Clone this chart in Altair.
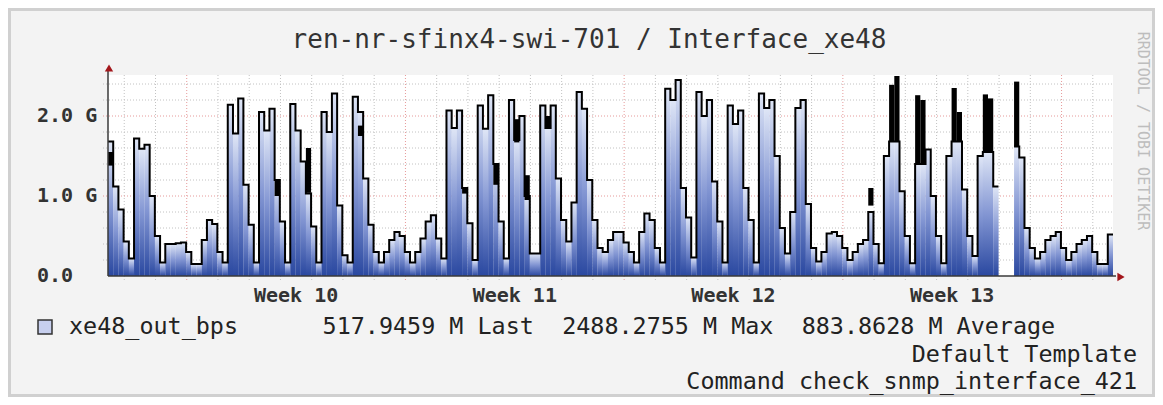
import altair as alt
import pandas as pd

# ---------------- data ----------------
TITLE = "ren-nr-sfinx4-swi-701 / Interface_xe48"
SERIES_NAME = "xe48_out_bps"
START_DAY = -2.52            # first sample, days from the start of Week 10
STEP_DAYS = 1.0 / 6.0        # 4-hour consolidated samples

# traffic in Gbit/s, one value per 4-hour step (None = no data)
out_gbps = [
    1.68, 1.12, 0.83, 0.43, 0.22, 1.72, 1.59, 1.64, 1.00, 0.50,
    0.17, 0.40, 0.40, 0.41, 0.42, 0.30, 0.15, 0.15, 0.45, 0.70,
    0.65, 0.30, 0.17, 2.14, 1.78, 2.22, 1.14, 0.64, 0.17, 2.05,
    1.82, 2.09, 1.20, 0.68, 0.17, 2.15, 1.82, 1.43, 1.03, 0.62,
    0.17, 2.05, 1.80, 2.28, 0.88, 0.26, 0.17, 2.24, 2.05, 1.22,
    0.64, 0.30, 0.17, 0.30, 0.45, 0.55, 0.50, 0.30, 0.17, 0.30,
    0.47, 0.68, 0.76, 0.47, 0.22, 2.07, 1.85, 2.07, 1.10, 0.66,
    0.20, 2.13, 1.84, 2.26, 1.40, 0.68, 0.22, 2.20, 1.70, 2.00,
    1.00, 0.28, 0.28, 2.13, 1.85, 2.13, 1.22, 0.70, 0.43, 0.92,
    2.30, 2.09, 1.20, 0.70, 0.35, 0.30, 0.45, 0.55, 0.55, 0.42,
    0.30, 0.17, 0.55, 0.78, 0.70, 0.35, 0.17, 2.34, 2.20, 2.45,
    1.10, 0.73, 0.23, 2.30, 2.00, 2.20, 1.18, 0.68, 0.17, 2.13,
    1.90, 2.07, 1.10, 0.70, 0.17, 2.28, 2.10, 2.20, 1.50, 0.60,
    0.28, 0.80, 2.10, 2.20, 0.90, 0.35, 0.18, 0.30, 0.53, 0.55,
    0.50, 0.35, 0.20, 0.30, 0.40, 0.45, 0.80, 0.40, 0.16, 1.50,
    1.68, 1.68, 1.06, 0.50, 0.16, 1.40, 1.40, 1.58, 1.00, 0.50,
    0.16, 1.50, 1.68, 1.68, 1.08, 0.50, 0.25, 1.50, 1.55, 1.55,
    1.12, None, None, None, 1.62, 1.48, 0.60, 0.35, 0.22, 0.30,
    0.45, 0.50, 0.55, 0.35, 0.20, 0.30, 0.40, 0.45, 0.50, 0.30,
    0.15, 0.15, 0.52,
]

# dark bands (short-term spread inside a step)
band_step = [0, 32, 38, 48, 68, 74, 78, 80, 84, 146, 150, 151, 155, 156, 162, 163, 168, 169, 174]
band_lo = [1.38, 1.00, 1.04, 1.75, 1.03, 1.14, 1.67, 0.95, 1.84, 0.88, 1.68, 1.68, 1.40, 1.40, 1.68, 1.68, 1.55, 1.55, 1.62]
band_hi = [1.55, 1.20, 1.60, 1.88, 1.10, 1.40, 1.96, 1.26, 2.00, 1.10, 2.39, 2.50, 2.26, 2.20, 2.35, 2.05, 2.27, 2.22, 2.43]

week_pos = [3.5, 10.5, 17.5, 24.5]
week_labels = ["Week 10", "Week 11", "Week 12", "Week 13"]
y_label_vals = [0, 1, 2]
y_label_text = ["0.0", "1.0 G", "2.0 G"]
y_minor = [0.2, 0.4, 0.6, 0.8, 1.2, 1.4, 1.6, 1.8, 2.2, 2.4]
y_major = [1.0, 2.0]
x_major = [0, 7, 14, 21, 28]
x_minor = [d for d in range(-2, 30) if d % 7 != 0]

legend_stats = ["517.9459 M Last", "2488.2755 M Max", "883.8628 M Average"]
legend_cols = [18, 35, 52]
comment_lines = ["Default Template", "Command check_snmp_interface_421"]
watermark = "RRDTOOL / TOBI OETIKER"

# ---------------- layout ----------------
W, H = 1005, 201
PAD = {"left": 100, "top": 67, "right": 42, "bottom": 121}
MONO = "DejaVu Sans Mono"
PITCH = 14.09                    # legend character pitch

X_END = START_DAY + len(out_gbps) * STEP_DAYS
x_scale = alt.Scale(domain=[START_DAY, X_END], nice=False, zero=False)
y_scale = alt.Scale(domain=[0, 2.5125], nice=False, zero=False)

# ---------------- tables ----------------
rect_rows, line_rows = [], []
seg, last, in_gap = 0, None, True
for i, v in enumerate(out_gbps):
    t0 = START_DAY + i * STEP_DAYS
    if v is None:
        if not in_gap:
            line_rows.append({"t": t0, "v": last, "seg": seg})
            seg += 1
        in_gap = True
        continue
    rect_rows.append({"t0": t0, "t1": t0 + STEP_DAYS * 1.03, "v": v, "base": 0.0})
    line_rows.append({"t": t0, "v": v, "seg": seg})
    last, in_gap = v, False
line_rows.append({"t": X_END, "v": last, "seg": seg})
rect_df = pd.DataFrame(rect_rows)
line_df = pd.DataFrame(line_rows)

band_df = pd.DataFrame({
    "t0": [START_DAY + s * STEP_DAYS for s in band_step],
    "t1": [START_DAY + (s + 1) * STEP_DAYS for s in band_step],
    "lo": band_lo, "hi": band_hi,
})

one = alt.Data(values=[{"k": 0}])

# ---------------- grid ----------------
def hgrid(vals, color):
    return alt.Chart(pd.DataFrame({"v": vals})).mark_rule(
        color=color, strokeDash=[1, 2], strokeWidth=1
    ).encode(y=alt.Y("v:Q", scale=y_scale, axis=None),
             x=alt.value(-5), x2=alt.value(W))

def vgrid(vals, color):
    return alt.Chart(pd.DataFrame({"d": vals})).mark_rule(
        color=color, strokeDash=[1, 2], strokeWidth=1
    ).encode(x=alt.X("d:Q", scale=x_scale, axis=None),
             y=alt.value(0), y2=alt.value(H + 5))

grid = [hgrid(y_minor, "#c2c2c2"), vgrid(x_minor, "#c2c2c2"),
        hgrid(y_major, "#e69a9a"), vgrid(x_major, "#e69a9a")]

# ---------------- data marks ----------------
fill = alt.Gradient(
    gradient="linear", x1=0, x2=0, y1=0, y2=1,
    stops=[alt.GradientStop(color="#dfe6f6", offset=0),
           alt.GradientStop(color="#8396d3", offset=0.5),
           alt.GradientStop(color="#2a48a0", offset=1)],
)

area = alt.Chart(rect_df).mark_rect(fill=fill, strokeWidth=0, clip=True).encode(
    x=alt.X("t0:Q", scale=x_scale, axis=None),
    x2="t1:Q",
    y=alt.Y("v:Q", scale=y_scale, axis=None),
    y2="base:Q",
)

bands = alt.Chart(band_df).mark_rect(color="black", clip=True).encode(
    x=alt.X("t0:Q", scale=x_scale, axis=None), x2="t1:Q",
    y=alt.Y("lo:Q", scale=y_scale, axis=None), y2="hi:Q",
)

line = alt.Chart(line_df).mark_line(
    interpolate="step-after", color="black", strokeWidth=2, clip=True
).encode(
    x=alt.X("t:Q", scale=x_scale, axis=None),
    y=alt.Y("v:Q", scale=y_scale, axis=None),
    detail="seg:N",
)

# ---------------- axes (drawn by hand, RRDtool style) ----------------
y_axis_line = alt.Chart(one).mark_rule(color="#3a3a3a", strokeWidth=1.5).encode(
    x=alt.value(0), y=alt.value(-4), y2=alt.value(H))
x_axis_line = alt.Chart(one).mark_rule(color="#3a3a3a", strokeWidth=1.5).encode(
    x=alt.value(0), x2=alt.value(W + 3), y=alt.value(H))

y_labels = alt.Chart(pd.DataFrame({"v": y_label_vals, "s": y_label_text})).mark_text(
    font=MONO, fontSize=20, fontWeight="bold", color="#333333",
    align="left", baseline="middle"
).encode(y=alt.Y("v:Q", scale=y_scale, axis=None), x=alt.value(-71), text="s:N")

week_text = alt.Chart(pd.DataFrame({"p": week_pos, "w": week_labels})).mark_text(
    font=MONO, fontSize=20, fontWeight="bold", color="#333333", baseline="middle"
).encode(x=alt.X("p:Q", scale=x_scale, axis=None), y=alt.value(H + 20), text="w:N")

arrow_up = alt.Chart(one).mark_point(shape="triangle-up", filled=True, size=70,
                                     color="#a3161b", opacity=1).encode(
    x=alt.value(1), y=alt.value(-7))
arrow_right = alt.Chart(one).mark_point(shape="triangle-right", filled=True, size=70,
                                        color="#a3161b", opacity=1).encode(
    x=alt.value(W + 8), y=alt.value(H + 1))

# ---------------- texts ----------------
title = alt.Chart(pd.DataFrame({"s": [TITLE]})).mark_text(
    font=MONO, fontSize=26, color="#333333", align="center", baseline="middle"
).encode(x=alt.value(481), y=alt.value(-35), text="s:N")

legend_box = alt.Chart(one).mark_rect(fill="#c7cfee", stroke="#333333", strokeWidth=1.5).encode(
    x=alt.value(-70), x2=alt.value(-56), y=alt.value(245), y2=alt.value(259))

legend_name = alt.Chart(pd.DataFrame({"s": [SERIES_NAME]})).mark_text(
    font=MONO, fontSize=23.4, color="#222222", align="left", baseline="middle"
).encode(x=alt.value(-39), y=alt.value(252), text="s:N")

stats = [
    alt.Chart(pd.DataFrame({"s": [s]})).mark_text(
        font=MONO, fontSize=23.4, color="#222222", align="left", baseline="middle"
    ).encode(x=alt.value(-39 + c * PITCH), y=alt.value(252), text="s:N")
    for s, c in zip(legend_stats, legend_cols)
]

comments = [
    alt.Chart(pd.DataFrame({"s": [s]})).mark_text(
        font=MONO, fontSize=23.4, color="#222222", align="right", baseline="middle"
    ).encode(x=alt.value(1029), y=alt.value(py), text="s:N")
    for s, py in zip(comment_lines, [280, 307])
]

mark_wm = alt.Chart(pd.DataFrame({"s": [watermark]})).mark_text(
    font=MONO, fontSize=15, color="#bdbdbd", angle=90, align="center", baseline="middle"
).encode(x=alt.value(1035), y=alt.value(56), text="s:N")

border = alt.Chart(one).mark_rect(fill="transparent", stroke="#d0d0d0", strokeWidth=3).encode(
    x=alt.value(-PAD["left"] + 1.5), x2=alt.value(W + PAD["right"] - 1.5),
    y=alt.value(-PAD["top"] + 1.5), y2=alt.value(H + PAD["bottom"] - 1.5))

chart = alt.layer(
    border, *grid, area, bands, line, y_axis_line, x_axis_line, y_labels, week_text,
    arrow_up, arrow_right, title, legend_box, legend_name, *stats, *comments, mark_wm,
).properties(
    width=W, height=H, padding=PAD,
    autosize=alt.AutoSizeParams(type="none"),
    background="#f3f3f3",
).configure_view(fill="white", strokeWidth=0)

chart.save("out.html", embed_options={"renderer": "svg", "actions": False})
